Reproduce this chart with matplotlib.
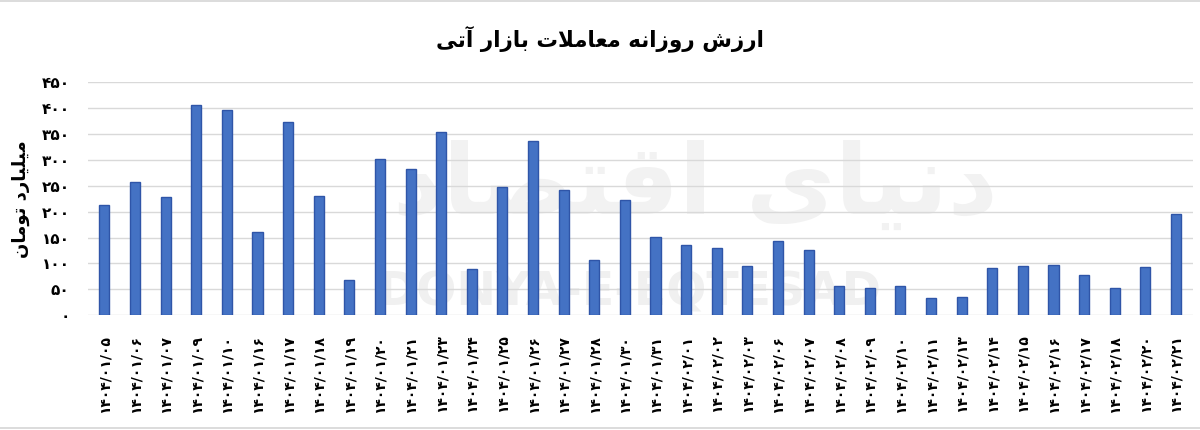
import matplotlib
matplotlib.use('Agg')
import matplotlib.pyplot as plt
import numpy as np

plt.rcParams['font.family'] = ['DejaVu Sans']

# data
dates = ['1404/01/05', '1404/01/06', '1404/01/07', '1404/01/09', '1404/01/10',
         '1404/01/16', '1404/01/17', '1404/01/18', '1404/01/19', '1404/01/20',
         '1404/01/21', '1404/01/23', '1404/01/24', '1404/01/25', '1404/01/26',
         '1404/01/27', '1404/01/28', '1404/01/30', '1404/01/31', '1404/02/01',
         '1404/02/02', '1404/02/03', '1404/02/06', '1404/02/07', '1404/02/08',
         '1404/02/09', '1404/02/10', '1404/02/11', '1404/02/13', '1404/02/14',
         '1404/02/15', '1404/02/16', '1404/02/17', '1404/02/18', '1404/02/20',
         '1404/02/21']
values = [212, 258, 228, 405, 397, 160, 373, 230, 68, 301,
          282, 353, 89, 247, 336, 241, 106, 222, 151, 135,
          129, 95, 143, 125, 57, 52, 57, 33, 35, 91,
          95, 97, 77, 52, 93, 195]
y_ticks = [0, 50, 100, 150, 200, 250, 300, 350, 400, 450]

title_text = 'ارزش روزانه معاملات بازار آتی'
ylabel_text = 'میلیارد تومان'
logo_text = 'دنیای اقتصاد'

# presentation forms: isolated, final, initial, medial
FORMS = {
    'ا': ('\uFE8D', '\uFE8E', None, None),
    'آ': ('\uFE81', '\uFE82', None, None),
    'ب': ('\uFE8F', '\uFE90', '\uFE91', '\uFE92'),
    'ت': ('\uFE95', '\uFE96', '\uFE97', '\uFE98'),
    'د': ('\uFEA9', '\uFEAA', None, None),
    'ر': ('\uFEAD', '\uFEAE', None, None),
    'ز': ('\uFEAF', '\uFEB0', None, None),
    'ش': ('\uFEB5', '\uFEB6', '\uFEB7', '\uFEB8'),
    'ص': ('\uFEB9', '\uFEBA', '\uFEBB', '\uFEBC'),
    'ع': ('\uFEC9', '\uFECA', '\uFECB', '\uFECC'),
    'ق': ('\uFED5', '\uFED6', '\uFED7', '\uFED8'),
    'ل': ('\uFEDD', '\uFEDE', '\uFEDF', '\uFEE0'),
    'م': ('\uFEE1', '\uFEE2', '\uFEE3', '\uFEE4'),
    'ن': ('\uFEE5', '\uFEE6', '\uFEE7', '\uFEE8'),
    'ه': ('\uFEE9', '\uFEEA', '\uFEEB', '\uFEEC'),
    'و': ('\uFEED', '\uFEEE', None, None),
    'ی': ('\uFBFC', '\uFBFD', '\uFBFE', '\uFBFF'),
}
LAM_ALEF = {'ا': ('\uFEFB', '\uFEFC'), 'آ': ('\uFEF5', '\uFEF6')}


def joins_left(ch):
    return ch in FORMS and FORMS[ch][2] is not None


def shape(text):
    # simple arabic shaping + reversal, matplotlib has no bidi engine
    out = []
    chars = list(text)
    i = 0
    while i < len(chars):
        ch = chars[i]
        if ch not in FORMS:
            out.append(ch)
            i += 1
            continue
        prev = chars[i - 1] if i > 0 else ''
        nxt = chars[i + 1] if i + 1 < len(chars) else ''
        con_prev = joins_left(prev)
        if ch == 'ل' and nxt in LAM_ALEF:
            out.append(LAM_ALEF[nxt][1 if con_prev else 0])
            i += 2
            continue
        con_next = joins_left(ch) and nxt in FORMS
        iso, fin, ini, med = FORMS[ch]
        if con_prev and con_next:
            out.append(med)
        elif con_prev:
            out.append(fin)
        elif con_next:
            out.append(ini)
        else:
            out.append(iso)
        i += 1
    return ''.join(reversed(out))


def fa_digits(s):
    return str(s).translate(str.maketrans('0123456789', '۰۱۲۳۴۵۶۷۸۹'))


fig = plt.figure(figsize=(12, 4.3), dpi=100)
ax = fig.add_axes([0.073, 0.267, 0.921, 0.542])

x = np.arange(len(dates))
ax.bar(x, values, width=0.33, color='#4472C4', edgecolor='#2F55A8',
       linewidth=1.0, zorder=3)

ax.set_ylim(0, 450)
ax.set_xlim(-0.55, len(dates) - 0.45)
ax.set_yticks(y_ticks)
ax.set_yticklabels([fa_digits(v) for v in y_ticks], fontsize=11,
                   fontweight='bold')
ax.set_xticks(x)
ax.set_xticklabels([fa_digits(d) for d in dates], rotation=90,
                   fontsize=10, fontweight='bold')
ax.tick_params(axis='x', length=0, pad=14)
ax.tick_params(axis='y', length=0, pad=13)
ax.grid(axis='y', color='#d9d9d9', linewidth=1.0, zorder=0)
for s in ax.spines.values():
    s.set_visible(False)

ax.set_ylabel(shape(ylabel_text), fontsize=13, fontweight='bold', labelpad=8)

fig.text(0.5, 0.91, shape(title_text), ha='center', va='center',
         fontsize=15.5, fontweight='bold')

# watermark behind the bars
ax.text(0.49, 0.0, 'DONYA-E-EQTESAD', transform=ax.transAxes, ha='center',
        va='bottom', fontsize=34, fontweight='bold', color='#f0f0f0', zorder=1)
ax.text(0.55, 0.55, shape(logo_text), transform=ax.transAxes, ha='center',
        va='center', fontsize=70, fontweight='bold', color='#f2f2f2', zorder=1)

# thin frame lines top and bottom
fig.add_artist(plt.Line2D([0, 1], [0.997, 0.997], color='#d6d6d6', lw=1.2))
fig.add_artist(plt.Line2D([0, 1], [0.005, 0.005], color='#d6d6d6', lw=1.2))

fig.savefig('out.png', dpi=100)
